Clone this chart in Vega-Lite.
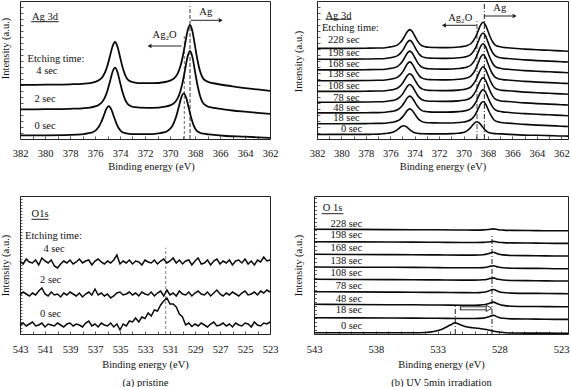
{
"$schema":"https://vega.github.io/schema/vega-lite/v6.json",
"padding":0,
"spacing":22,
"config":{
"font":"Liberation Serif",
"view":{"stroke":"#222","strokeWidth":1},
"axis":{"grid":false,"domain":false,"labelFont":"Liberation Serif","titleFont":"Liberation Serif","labelFontSize":10.5,"titleFontSize":10.5,"titleFontWeight":"normal","labelColor":"#111","titleColor":"#111","tickColor":"#333","tickWidth":0.8,"labelOverlap":false,"labelFlush":false},
"text":{"font":"Liberation Serif","fontSize":10.5,"color":"#111"}
},
"datasets":{
"tl":[
{"c":"4","x":382,"y":54.1},{"c":"4","x":380,"y":54.3},{"c":"4","x":378,"y":54.7},{"c":"4","x":377,"y":55.2},{"c":"4","x":376.4,"y":55.9},{"c":"4","x":376,"y":57.2},{"c":"4","x":375.7,"y":58.7},{"c":"4","x":375.4,"y":62.1},{"c":"4","x":375.2,"y":66.6},{"c":"4","x":375,"y":73.6},{"c":"4","x":374.8,"y":83},{"c":"4","x":374.6,"y":92.5},{"c":"4","x":374.4,"y":97},{"c":"4","x":374.2,"y":92.3},{"c":"4","x":374,"y":82.2},{"c":"4","x":373.8,"y":72},{"c":"4","x":373.6,"y":64.4},{"c":"4","x":373.4,"y":59.8},{"c":"4","x":373.1,"y":57.3},{"c":"4","x":372.8,"y":56.4},{"c":"4","x":372.4,"y":55.8},{"c":"4","x":371.4,"y":55.8},{"c":"4","x":370.4,"y":57},{"c":"4","x":370,"y":58.4},{"c":"4","x":369.7,"y":60.4},{"c":"4","x":369.4,"y":65.1},{"c":"4","x":369.2,"y":71.4},{"c":"4","x":369,"y":81.3},{"c":"4","x":368.8,"y":94.4},{"c":"4","x":368.6,"y":107.8},{"c":"4","x":368.4,"y":114},{"c":"4","x":368.2,"y":107.4},{"c":"4","x":368,"y":93.1},{"c":"4","x":367.8,"y":78.8},{"c":"4","x":367.6,"y":68},{"c":"4","x":367.4,"y":61.5},{"c":"4","x":367.1,"y":57.9},{"c":"4","x":366.8,"y":56.4},{"c":"4","x":366.4,"y":55.5},{"c":"4","x":365,"y":52.6},{"c":"4","x":364,"y":50.9},{"c":"4","x":363,"y":49.6},{"c":"4","x":362,"y":48.1},
{"c":"2","x":382,"y":29.6},{"c":"2","x":380,"y":29.8},{"c":"2","x":378,"y":30.2},{"c":"2","x":377,"y":30.7},{"c":"2","x":376.4,"y":31.4},{"c":"2","x":376,"y":32.6},{"c":"2","x":375.7,"y":34.1},{"c":"2","x":375.4,"y":37.4},{"c":"2","x":375.2,"y":41.8},{"c":"2","x":375,"y":48.6},{"c":"2","x":374.8,"y":57.6},{"c":"2","x":374.6,"y":67},{"c":"2","x":374.4,"y":71.3},{"c":"2","x":374.2,"y":66.8},{"c":"2","x":374,"y":56.9},{"c":"2","x":373.8,"y":47},{"c":"2","x":373.6,"y":39.7},{"c":"2","x":373.4,"y":35.2},{"c":"2","x":373.1,"y":32.7},{"c":"2","x":372.8,"y":31.8},{"c":"2","x":372.4,"y":31.3},{"c":"2","x":371.4,"y":31.2},{"c":"2","x":370.4,"y":32.4},{"c":"2","x":370,"y":33.7},{"c":"2","x":369.7,"y":35.7},{"c":"2","x":369.4,"y":40.4},{"c":"2","x":369.2,"y":46.5},{"c":"2","x":369,"y":56.1},{"c":"2","x":368.8,"y":68.9},{"c":"2","x":368.6,"y":82},{"c":"2","x":368.4,"y":88},{"c":"2","x":368.2,"y":81.6},{"c":"2","x":368,"y":67.6},{"c":"2","x":367.8,"y":53.7},{"c":"2","x":367.6,"y":43.2},{"c":"2","x":367.4,"y":36.8},{"c":"2","x":367.1,"y":33.3},{"c":"2","x":366.8,"y":31.8},{"c":"2","x":366.4,"y":31},{"c":"2","x":365,"y":28.5},{"c":"2","x":364,"y":27.3},{"c":"2","x":363,"y":26.2},{"c":"2","x":362,"y":25.1},
{"c":"0","x":382,"y":3.6},{"c":"0","x":380,"y":3.7},{"c":"0","x":378,"y":4.1},{"c":"0","x":377.5,"y":4.3},{"c":"0","x":376.9,"y":4.8},{"c":"0","x":376.5,"y":5.8},{"c":"0","x":376.2,"y":6.8},{"c":"0","x":375.9,"y":9.2},{"c":"0","x":375.7,"y":12.2},{"c":"0","x":375.5,"y":17},{"c":"0","x":375.3,"y":23.3},{"c":"0","x":375.1,"y":29.9},{"c":"0","x":374.9,"y":32.9},{"c":"0","x":374.7,"y":29.7},{"c":"0","x":374.5,"y":22.8},{"c":"0","x":374.3,"y":15.9},{"c":"0","x":374.1,"y":10.7},{"c":"0","x":373.9,"y":7.6},{"c":"0","x":373.6,"y":5.9},{"c":"0","x":373.3,"y":5.2},{"c":"0","x":372.9,"y":4.8},{"c":"0","x":371.9,"y":4.8},{"c":"0","x":370.9,"y":5.7},{"c":"0","x":370.5,"y":6.6},{"c":"0","x":370.2,"y":8.1},{"c":"0","x":369.9,"y":11.4},{"c":"0","x":369.7,"y":15.8},{"c":"0","x":369.5,"y":22.7},{"c":"0","x":369.3,"y":31.9},{"c":"0","x":369.1,"y":41.4},{"c":"0","x":368.9,"y":45.7},{"c":"0","x":368.7,"y":41.1},{"c":"0","x":368.5,"y":31},{"c":"0","x":368.3,"y":21},{"c":"0","x":368.1,"y":13.4},{"c":"0","x":367.9,"y":8.8},{"c":"0","x":367.6,"y":6.3},{"c":"0","x":367.3,"y":5.3},{"c":"0","x":366.9,"y":4.6},{"c":"0","x":365.5,"y":3},{"c":"0","x":364,"y":2.3},{"c":"0","x":363,"y":1.7},{"c":"0","x":362,"y":1.1}
],
"tr":[
{"c":"228","x":382,"y":90.6},{"c":"228","x":380,"y":90.6},{"c":"228","x":378,"y":90.8},{"c":"228","x":377,"y":91},{"c":"228","x":376.4,"y":91.3},{"c":"228","x":376,"y":92.1},{"c":"228","x":375.7,"y":92.7},{"c":"228","x":375.4,"y":94.2},{"c":"228","x":375.2,"y":96.2},{"c":"228","x":375,"y":99.2},{"c":"228","x":374.8,"y":103.3},{"c":"228","x":374.6,"y":107.5},{"c":"228","x":374.4,"y":109.4},{"c":"228","x":374.2,"y":107.4},{"c":"228","x":374,"y":103},{"c":"228","x":373.8,"y":98.6},{"c":"228","x":373.6,"y":95.2},{"c":"228","x":373.4,"y":93.2},{"c":"228","x":373.1,"y":92.1},{"c":"228","x":372.8,"y":91.7},{"c":"228","x":372.4,"y":91.5},{"c":"228","x":371.4,"y":91.4},{"c":"228","x":370.4,"y":92},{"c":"228","x":370,"y":92.6},{"c":"228","x":369.7,"y":93.5},{"c":"228","x":369.4,"y":95.5},{"c":"228","x":369.2,"y":98.3},{"c":"228","x":369,"y":102.5},{"c":"228","x":368.8,"y":108.3},{"c":"228","x":368.6,"y":114.1},{"c":"228","x":368.4,"y":116.8},{"c":"228","x":368.2,"y":113.9},{"c":"228","x":368,"y":107.7},{"c":"228","x":367.8,"y":101.5},{"c":"228","x":367.6,"y":96.8},{"c":"228","x":367.4,"y":93.9},{"c":"228","x":367.1,"y":92.4},{"c":"228","x":366.8,"y":91.7},{"c":"228","x":366.4,"y":91.3},{"c":"228","x":365,"y":89.9},{"c":"228","x":364,"y":89.2},{"c":"228","x":363,"y":88.7},{"c":"228","x":362,"y":88.1},{"c":"228","x":361.45,"y":87.8},
{"c":"198","x":382,"y":79.8},{"c":"198","x":380,"y":79.8},{"c":"198","x":378,"y":80},{"c":"198","x":377,"y":80.2},{"c":"198","x":376.4,"y":80.5},{"c":"198","x":376,"y":81.3},{"c":"198","x":375.7,"y":81.9},{"c":"198","x":375.4,"y":83.4},{"c":"198","x":375.2,"y":85.4},{"c":"198","x":375,"y":88.4},{"c":"198","x":374.8,"y":92.5},{"c":"198","x":374.6,"y":96.7},{"c":"198","x":374.4,"y":98.6},{"c":"198","x":374.2,"y":96.6},{"c":"198","x":374,"y":92.2},{"c":"198","x":373.8,"y":87.8},{"c":"198","x":373.6,"y":84.4},{"c":"198","x":373.4,"y":82.4},{"c":"198","x":373.1,"y":81.3},{"c":"198","x":372.8,"y":80.9},{"c":"198","x":372.4,"y":80.7},{"c":"198","x":371.4,"y":80.6},{"c":"198","x":370.4,"y":81.2},{"c":"198","x":370,"y":81.8},{"c":"198","x":369.7,"y":82.7},{"c":"198","x":369.4,"y":84.7},{"c":"198","x":369.2,"y":87.5},{"c":"198","x":369,"y":91.7},{"c":"198","x":368.8,"y":97.5},{"c":"198","x":368.6,"y":103.3},{"c":"198","x":368.4,"y":106},{"c":"198","x":368.2,"y":103.1},{"c":"198","x":368,"y":96.9},{"c":"198","x":367.8,"y":90.7},{"c":"198","x":367.6,"y":86},{"c":"198","x":367.4,"y":83.1},{"c":"198","x":367.1,"y":81.6},{"c":"198","x":366.8,"y":80.9},{"c":"198","x":366.4,"y":80.5},{"c":"198","x":365,"y":79.1},{"c":"198","x":364,"y":78.4},{"c":"198","x":363,"y":77.9},{"c":"198","x":362,"y":77.3},{"c":"198","x":361.45,"y":77},
{"c":"168","x":382,"y":69.1},{"c":"168","x":380,"y":69.1},{"c":"168","x":378,"y":69.3},{"c":"168","x":377,"y":69.5},{"c":"168","x":376.4,"y":69.8},{"c":"168","x":376,"y":70.6},{"c":"168","x":375.7,"y":71.2},{"c":"168","x":375.4,"y":72.7},{"c":"168","x":375.2,"y":74.7},{"c":"168","x":375,"y":77.7},{"c":"168","x":374.8,"y":81.8},{"c":"168","x":374.6,"y":86},{"c":"168","x":374.4,"y":87.9},{"c":"168","x":374.2,"y":85.9},{"c":"168","x":374,"y":81.5},{"c":"168","x":373.8,"y":77.1},{"c":"168","x":373.6,"y":73.7},{"c":"168","x":373.4,"y":71.7},{"c":"168","x":373.1,"y":70.6},{"c":"168","x":372.8,"y":70.2},{"c":"168","x":372.4,"y":70},{"c":"168","x":371.4,"y":69.9},{"c":"168","x":370.4,"y":70.5},{"c":"168","x":370,"y":71.1},{"c":"168","x":369.7,"y":72},{"c":"168","x":369.4,"y":74},{"c":"168","x":369.2,"y":76.8},{"c":"168","x":369,"y":81},{"c":"168","x":368.8,"y":86.8},{"c":"168","x":368.6,"y":92.6},{"c":"168","x":368.4,"y":95.3},{"c":"168","x":368.2,"y":92.4},{"c":"168","x":368,"y":86.2},{"c":"168","x":367.8,"y":80},{"c":"168","x":367.6,"y":75.3},{"c":"168","x":367.4,"y":72.4},{"c":"168","x":367.1,"y":70.9},{"c":"168","x":366.8,"y":70.2},{"c":"168","x":366.4,"y":69.8},{"c":"168","x":365,"y":68.4},{"c":"168","x":364,"y":67.7},{"c":"168","x":363,"y":67.2},{"c":"168","x":362,"y":66.6},{"c":"168","x":361.45,"y":66.3},
{"c":"138","x":382,"y":58.3},{"c":"138","x":380,"y":58.3},{"c":"138","x":378,"y":58.5},{"c":"138","x":377,"y":58.7},{"c":"138","x":376.4,"y":59},{"c":"138","x":376,"y":59.8},{"c":"138","x":375.7,"y":60.4},{"c":"138","x":375.4,"y":61.9},{"c":"138","x":375.2,"y":63.9},{"c":"138","x":375,"y":66.9},{"c":"138","x":374.8,"y":71},{"c":"138","x":374.6,"y":75.2},{"c":"138","x":374.4,"y":77.1},{"c":"138","x":374.2,"y":75.1},{"c":"138","x":374,"y":70.7},{"c":"138","x":373.8,"y":66.3},{"c":"138","x":373.6,"y":62.9},{"c":"138","x":373.4,"y":60.9},{"c":"138","x":373.1,"y":59.8},{"c":"138","x":372.8,"y":59.4},{"c":"138","x":372.4,"y":59.2},{"c":"138","x":371.4,"y":59.1},{"c":"138","x":370.4,"y":59.7},{"c":"138","x":370,"y":60.3},{"c":"138","x":369.7,"y":61.2},{"c":"138","x":369.4,"y":63.2},{"c":"138","x":369.2,"y":66},{"c":"138","x":369,"y":70.2},{"c":"138","x":368.8,"y":76},{"c":"138","x":368.6,"y":81.8},{"c":"138","x":368.4,"y":84.5},{"c":"138","x":368.2,"y":81.6},{"c":"138","x":368,"y":75.4},{"c":"138","x":367.8,"y":69.2},{"c":"138","x":367.6,"y":64.5},{"c":"138","x":367.4,"y":61.6},{"c":"138","x":367.1,"y":60.1},{"c":"138","x":366.8,"y":59.4},{"c":"138","x":366.4,"y":59},{"c":"138","x":365,"y":57.6},{"c":"138","x":364,"y":56.9},{"c":"138","x":363,"y":56.4},{"c":"138","x":362,"y":55.8},{"c":"138","x":361.45,"y":55.5},
{"c":"108","x":382,"y":47.6},{"c":"108","x":380,"y":47.6},{"c":"108","x":378,"y":47.8},{"c":"108","x":377,"y":48},{"c":"108","x":376.4,"y":48.3},{"c":"108","x":376,"y":49},{"c":"108","x":375.7,"y":49.6},{"c":"108","x":375.4,"y":51},{"c":"108","x":375.2,"y":52.9},{"c":"108","x":375,"y":55.7},{"c":"108","x":374.8,"y":59.6},{"c":"108","x":374.6,"y":63.5},{"c":"108","x":374.4,"y":65.3},{"c":"108","x":374.2,"y":63.4},{"c":"108","x":374,"y":59.3},{"c":"108","x":373.8,"y":55.1},{"c":"108","x":373.6,"y":51.9},{"c":"108","x":373.4,"y":50.1},{"c":"108","x":373.1,"y":49},{"c":"108","x":372.8,"y":48.6},{"c":"108","x":372.4,"y":48.5},{"c":"108","x":371.4,"y":48.4},{"c":"108","x":370.4,"y":48.9},{"c":"108","x":370,"y":49.5},{"c":"108","x":369.7,"y":50.3},{"c":"108","x":369.4,"y":52.2},{"c":"108","x":369.2,"y":54.9},{"c":"108","x":369,"y":58.8},{"c":"108","x":368.8,"y":64.3},{"c":"108","x":368.6,"y":69.7},{"c":"108","x":368.4,"y":72.2},{"c":"108","x":368.2,"y":69.5},{"c":"108","x":368,"y":63.7},{"c":"108","x":367.8,"y":57.9},{"c":"108","x":367.6,"y":53.4},{"c":"108","x":367.4,"y":50.7},{"c":"108","x":367.1,"y":49.3},{"c":"108","x":366.8,"y":48.6},{"c":"108","x":366.4,"y":48.3},{"c":"108","x":365,"y":46.9},{"c":"108","x":364,"y":46.2},{"c":"108","x":363,"y":45.7},{"c":"108","x":362,"y":45.1},{"c":"108","x":361.45,"y":44.8},
{"c":"78","x":382,"y":36.8},{"c":"78","x":380,"y":36.8},{"c":"78","x":378,"y":37},{"c":"78","x":377,"y":37.2},{"c":"78","x":376.4,"y":37.5},{"c":"78","x":376,"y":38.2},{"c":"78","x":375.7,"y":38.8},{"c":"78","x":375.4,"y":40.2},{"c":"78","x":375.2,"y":42.1},{"c":"78","x":375,"y":44.9},{"c":"78","x":374.8,"y":48.8},{"c":"78","x":374.6,"y":52.7},{"c":"78","x":374.4,"y":54.5},{"c":"78","x":374.2,"y":52.6},{"c":"78","x":374,"y":48.5},{"c":"78","x":373.8,"y":44.3},{"c":"78","x":373.6,"y":41.1},{"c":"78","x":373.4,"y":39.3},{"c":"78","x":373.1,"y":38.2},{"c":"78","x":372.8,"y":37.8},{"c":"78","x":372.4,"y":37.7},{"c":"78","x":371.4,"y":37.6},{"c":"78","x":370.4,"y":38.1},{"c":"78","x":370,"y":38.7},{"c":"78","x":369.7,"y":39.5},{"c":"78","x":369.4,"y":41.4},{"c":"78","x":369.2,"y":44.1},{"c":"78","x":369,"y":48},{"c":"78","x":368.8,"y":53.5},{"c":"78","x":368.6,"y":58.9},{"c":"78","x":368.4,"y":61.4},{"c":"78","x":368.2,"y":58.7},{"c":"78","x":368,"y":52.9},{"c":"78","x":367.8,"y":47.1},{"c":"78","x":367.6,"y":42.6},{"c":"78","x":367.4,"y":39.9},{"c":"78","x":367.1,"y":38.5},{"c":"78","x":366.8,"y":37.8},{"c":"78","x":366.4,"y":37.5},{"c":"78","x":365,"y":36.1},{"c":"78","x":364,"y":35.4},{"c":"78","x":363,"y":34.9},{"c":"78","x":362,"y":34.3},{"c":"78","x":361.45,"y":34},
{"c":"48","x":382,"y":26.1},{"c":"48","x":380,"y":26.1},{"c":"48","x":378,"y":26.3},{"c":"48","x":377,"y":26.4},{"c":"48","x":376.4,"y":26.7},{"c":"48","x":376,"y":27.5},{"c":"48","x":375.7,"y":28},{"c":"48","x":375.4,"y":29.3},{"c":"48","x":375.2,"y":31.1},{"c":"48","x":375,"y":33.8},{"c":"48","x":374.8,"y":37.4},{"c":"48","x":374.6,"y":41.2},{"c":"48","x":374.4,"y":42.9},{"c":"48","x":374.2,"y":41.1},{"c":"48","x":374,"y":37.2},{"c":"48","x":373.8,"y":33.2},{"c":"48","x":373.6,"y":30.2},{"c":"48","x":373.4,"y":28.4},{"c":"48","x":373.1,"y":27.5},{"c":"48","x":372.8,"y":27.1},{"c":"48","x":372.4,"y":26.9},{"c":"48","x":371.4,"y":26.9},{"c":"48","x":370.4,"y":27.4},{"c":"48","x":370,"y":27.9},{"c":"48","x":369.7,"y":28.7},{"c":"48","x":369.4,"y":30.5},{"c":"48","x":369.2,"y":33},{"c":"48","x":369,"y":36.7},{"c":"48","x":368.8,"y":41.9},{"c":"48","x":368.6,"y":47},{"c":"48","x":368.4,"y":49.4},{"c":"48","x":368.2,"y":46.9},{"c":"48","x":368,"y":41.3},{"c":"48","x":367.8,"y":35.8},{"c":"48","x":367.6,"y":31.6},{"c":"48","x":367.4,"y":29.1},{"c":"48","x":367.1,"y":27.7},{"c":"48","x":366.8,"y":27.1},{"c":"48","x":366.4,"y":26.7},{"c":"48","x":365,"y":25.4},{"c":"48","x":364,"y":24.7},{"c":"48","x":363,"y":24.2},{"c":"48","x":362,"y":23.6},{"c":"48","x":361.45,"y":23.3},
{"c":"18","x":382,"y":15.3},{"c":"18","x":380,"y":15.3},{"c":"18","x":378,"y":15.4},{"c":"18","x":377,"y":15.6},{"c":"18","x":376.4,"y":15.8},{"c":"18","x":376,"y":16.5},{"c":"18","x":375.7,"y":17},{"c":"18","x":375.4,"y":18.2},{"c":"18","x":375.2,"y":19.7},{"c":"18","x":375,"y":22.1},{"c":"18","x":374.8,"y":25.3},{"c":"18","x":374.6,"y":28.6},{"c":"18","x":374.4,"y":30.1},{"c":"18","x":374.2,"y":28.5},{"c":"18","x":374,"y":25.1},{"c":"18","x":373.8,"y":21.6},{"c":"18","x":373.6,"y":18.9},{"c":"18","x":373.4,"y":17.4},{"c":"18","x":373.1,"y":16.5},{"c":"18","x":372.8,"y":16.2},{"c":"18","x":372.4,"y":16.1},{"c":"18","x":371.4,"y":16},{"c":"18","x":370.4,"y":16.5},{"c":"18","x":370,"y":17},{"c":"18","x":369.7,"y":17.8},{"c":"18","x":369.4,"y":19.5},{"c":"18","x":369.2,"y":21.8},{"c":"18","x":369,"y":25.4},{"c":"18","x":368.8,"y":30.3},{"c":"18","x":368.6,"y":35.2},{"c":"18","x":368.4,"y":37.5},{"c":"18","x":368.2,"y":35},{"c":"18","x":368,"y":29.8},{"c":"18","x":367.8,"y":24.6},{"c":"18","x":367.6,"y":20.6},{"c":"18","x":367.4,"y":18.1},{"c":"18","x":367.1,"y":16.9},{"c":"18","x":366.8,"y":16.2},{"c":"18","x":366.4,"y":15.9},{"c":"18","x":365,"y":14.6},{"c":"18","x":364,"y":13.9},{"c":"18","x":363,"y":13.4},{"c":"18","x":362,"y":12.8},{"c":"18","x":361.45,"y":12.5},
{"c":"0","x":382,"y":4.5},{"c":"0","x":380,"y":4.6},{"c":"0","x":378,"y":4.6},{"c":"0","x":377.5,"y":4.7},{"c":"0","x":376.9,"y":4.9},{"c":"0","x":376.5,"y":5.4},{"c":"0","x":376.2,"y":5.7},{"c":"0","x":375.9,"y":6.4},{"c":"0","x":375.7,"y":7.3},{"c":"0","x":375.5,"y":8.7},{"c":"0","x":375.3,"y":10.5},{"c":"0","x":375.1,"y":12.5},{"c":"0","x":374.9,"y":13.3},{"c":"0","x":374.7,"y":12.4},{"c":"0","x":374.5,"y":10.4},{"c":"0","x":374.3,"y":8.4},{"c":"0","x":374.1,"y":6.8},{"c":"0","x":373.9,"y":5.9},{"c":"0","x":373.6,"y":5.4},{"c":"0","x":373.3,"y":5.2},{"c":"0","x":372.9,"y":5.1},{"c":"0","x":371.9,"y":5.1},{"c":"0","x":370.9,"y":5.4},{"c":"0","x":370.5,"y":5.7},{"c":"0","x":370.2,"y":6.1},{"c":"0","x":369.9,"y":7.1},{"c":"0","x":369.7,"y":8.4},{"c":"0","x":369.5,"y":10.4},{"c":"0","x":369.3,"y":13.2},{"c":"0","x":369.1,"y":16},{"c":"0","x":368.9,"y":17.3},{"c":"0","x":368.7,"y":15.9},{"c":"0","x":368.5,"y":12.9},{"c":"0","x":368.3,"y":9.9},{"c":"0","x":368.1,"y":7.7},{"c":"0","x":367.9,"y":6.3},{"c":"0","x":367.6,"y":5.6},{"c":"0","x":367.3,"y":5.3},{"c":"0","x":366.9,"y":5.1},{"c":"0","x":365.5,"y":4.1},{"c":"0","x":364,"y":3.7},{"c":"0","x":363,"y":3.4},{"c":"0","x":362,"y":3},{"c":"0","x":361.45,"y":2.9}
],
"bl":[
{"c":"4","x":543,"y":73},{"c":"4","x":542.75,"y":70},{"c":"4","x":542.5,"y":75},{"c":"4","x":542.25,"y":72},{"c":"4","x":542,"y":71},{"c":"4","x":541.75,"y":74},{"c":"4","x":541.5,"y":69},{"c":"4","x":541.25,"y":76},{"c":"4","x":541,"y":73},{"c":"4","x":540.75,"y":71},
{"c":"4","x":540.5,"y":74},{"c":"4","x":540.25,"y":68},{"c":"4","x":540,"y":66},{"c":"4","x":539.75,"y":70},{"c":"4","x":539.5,"y":73},{"c":"4","x":539.25,"y":71},{"c":"4","x":539,"y":74},{"c":"4","x":538.75,"y":70},{"c":"4","x":538.5,"y":72},{"c":"4","x":538.25,"y":75},
{"c":"4","x":538,"y":71},{"c":"4","x":537.75,"y":73},{"c":"4","x":537.5,"y":74},{"c":"4","x":537.25,"y":69},{"c":"4","x":537,"y":73},{"c":"4","x":536.75,"y":75},{"c":"4","x":536.5,"y":72},{"c":"4","x":536.25,"y":70},{"c":"4","x":536,"y":73},{"c":"4","x":535.75,"y":71},
{"c":"4","x":535.5,"y":74},{"c":"4","x":535.25,"y":79},{"c":"4","x":535,"y":70},{"c":"4","x":534.75,"y":73},{"c":"4","x":534.5,"y":71},{"c":"4","x":534.25,"y":74},{"c":"4","x":534,"y":70},{"c":"4","x":533.75,"y":73},{"c":"4","x":533.5,"y":72},{"c":"4","x":533.25,"y":69},
{"c":"4","x":533,"y":74},{"c":"4","x":532.75,"y":72},{"c":"4","x":532.5,"y":71},{"c":"4","x":532.25,"y":74},{"c":"4","x":532,"y":70},{"c":"4","x":531.75,"y":73},{"c":"4","x":531.5,"y":75},{"c":"4","x":531.25,"y":71},{"c":"4","x":531,"y":73},{"c":"4","x":530.75,"y":76},
{"c":"4","x":530.5,"y":71},{"c":"4","x":530.25,"y":74},{"c":"4","x":530,"y":70},{"c":"4","x":529.75,"y":73},{"c":"4","x":529.5,"y":74},{"c":"4","x":529.25,"y":69},{"c":"4","x":529,"y":73},{"c":"4","x":528.75,"y":76},{"c":"4","x":528.5,"y":70},{"c":"4","x":528.25,"y":71},
{"c":"4","x":528,"y":74},{"c":"4","x":527.75,"y":69},{"c":"4","x":527.5,"y":73},{"c":"4","x":527.25,"y":75},{"c":"4","x":527,"y":70},{"c":"4","x":526.75,"y":73},{"c":"4","x":526.5,"y":71},{"c":"4","x":526.25,"y":74},{"c":"4","x":526,"y":69},{"c":"4","x":525.75,"y":73},
{"c":"4","x":525.5,"y":74},{"c":"4","x":525.25,"y":71},{"c":"4","x":525,"y":75},{"c":"4","x":524.75,"y":70},{"c":"4","x":524.5,"y":73},{"c":"4","x":524.25,"y":69},{"c":"4","x":524,"y":74},{"c":"4","x":523.75,"y":72},{"c":"4","x":523.5,"y":77},{"c":"4","x":523.25,"y":73},{"c":"4","x":523,"y":74},
{"c":"2","x":543,"y":39},{"c":"2","x":542.75,"y":42},{"c":"2","x":542.5,"y":40},{"c":"2","x":542.25,"y":38},{"c":"2","x":542,"y":41},{"c":"2","x":541.75,"y":39},{"c":"2","x":541.5,"y":43},{"c":"2","x":541.25,"y":46},{"c":"2","x":541,"y":40},{"c":"2","x":540.75,"y":38},
{"c":"2","x":540.5,"y":42},{"c":"2","x":540.25,"y":39},{"c":"2","x":540,"y":40},{"c":"2","x":539.75,"y":37},{"c":"2","x":539.5,"y":41},{"c":"2","x":539.25,"y":39},{"c":"2","x":539,"y":42},{"c":"2","x":538.75,"y":40},{"c":"2","x":538.5,"y":38},{"c":"2","x":538.25,"y":41},
{"c":"2","x":538,"y":37},{"c":"2","x":537.75,"y":40},{"c":"2","x":537.5,"y":42},{"c":"2","x":537.25,"y":39},{"c":"2","x":537,"y":45},{"c":"2","x":536.75,"y":39},{"c":"2","x":536.5,"y":41},{"c":"2","x":536.25,"y":38},{"c":"2","x":536,"y":40},{"c":"2","x":535.75,"y":36},
{"c":"2","x":535.5,"y":38},{"c":"2","x":535.25,"y":41},{"c":"2","x":535,"y":42},{"c":"2","x":534.75,"y":39},{"c":"2","x":534.5,"y":40},{"c":"2","x":534.25,"y":42},{"c":"2","x":534,"y":39},{"c":"2","x":533.75,"y":41},{"c":"2","x":533.5,"y":38},{"c":"2","x":533.25,"y":42},
{"c":"2","x":533,"y":40},{"c":"2","x":532.75,"y":39},{"c":"2","x":532.5,"y":42},{"c":"2","x":532.25,"y":38},{"c":"2","x":532,"y":41},{"c":"2","x":531.75,"y":43},{"c":"2","x":531.5,"y":38},{"c":"2","x":531.25,"y":44},{"c":"2","x":531,"y":39},{"c":"2","x":530.75,"y":41},
{"c":"2","x":530.5,"y":38},{"c":"2","x":530.25,"y":43},{"c":"2","x":530,"y":40},{"c":"2","x":529.75,"y":39},{"c":"2","x":529.5,"y":42},{"c":"2","x":529.25,"y":38},{"c":"2","x":529,"y":41},{"c":"2","x":528.75,"y":43},{"c":"2","x":528.5,"y":40},{"c":"2","x":528.25,"y":39},
{"c":"2","x":528,"y":42},{"c":"2","x":527.75,"y":38},{"c":"2","x":527.5,"y":41},{"c":"2","x":527.25,"y":44},{"c":"2","x":527,"y":40},{"c":"2","x":526.75,"y":38},{"c":"2","x":526.5,"y":41},{"c":"2","x":526.25,"y":39},{"c":"2","x":526,"y":42},{"c":"2","x":525.75,"y":40},
{"c":"2","x":525.5,"y":38},{"c":"2","x":525.25,"y":41},{"c":"2","x":525,"y":43},{"c":"2","x":524.75,"y":39},{"c":"2","x":524.5,"y":40},{"c":"2","x":524.25,"y":42},{"c":"2","x":524,"y":39},{"c":"2","x":523.75,"y":43},{"c":"2","x":523.5,"y":41},{"c":"2","x":523.25,"y":44},{"c":"2","x":523,"y":42},
{"c":"0","x":543,"y":9},{"c":"0","x":542.75,"y":11},{"c":"0","x":542.5,"y":8},{"c":"0","x":542.25,"y":10},{"c":"0","x":542,"y":12},{"c":"0","x":541.75,"y":8},{"c":"0","x":541.5,"y":9},{"c":"0","x":541.25,"y":11},{"c":"0","x":541,"y":7},{"c":"0","x":540.75,"y":10},
{"c":"0","x":540.5,"y":9},{"c":"0","x":540.25,"y":8},{"c":"0","x":540,"y":11},{"c":"0","x":539.75,"y":9},{"c":"0","x":539.5,"y":7},{"c":"0","x":539.25,"y":10},{"c":"0","x":539,"y":11},{"c":"0","x":538.75,"y":8},{"c":"0","x":538.5,"y":10},{"c":"0","x":538.25,"y":9},
{"c":"0","x":538,"y":7},{"c":"0","x":537.75,"y":11},{"c":"0","x":537.5,"y":13},{"c":"0","x":537.25,"y":8},{"c":"0","x":537,"y":10},{"c":"0","x":536.75,"y":7},{"c":"0","x":536.5,"y":11},{"c":"0","x":536.25,"y":9},{"c":"0","x":536,"y":8},{"c":"0","x":535.75,"y":11},
{"c":"0","x":535.5,"y":7},{"c":"0","x":535.25,"y":10},{"c":"0","x":535,"y":4},{"c":"0","x":534.75,"y":10},{"c":"0","x":534.5,"y":8},{"c":"0","x":534.25,"y":13},{"c":"0","x":534,"y":12},{"c":"0","x":533.75,"y":16},{"c":"0","x":533.5,"y":12},{"c":"0","x":533.25,"y":17},
{"c":"0","x":533,"y":15.5},{"c":"0","x":532.75,"y":21},{"c":"0","x":532.5,"y":18},{"c":"0","x":532.25,"y":24},{"c":"0","x":532,"y":23},{"c":"0","x":531.75,"y":29},{"c":"0","x":531.5,"y":33},{"c":"0","x":531.25,"y":36},{"c":"0","x":531,"y":30},{"c":"0","x":530.75,"y":30},
{"c":"0","x":530.5,"y":27},{"c":"0","x":530.25,"y":20},{"c":"0","x":530,"y":17},{"c":"0","x":529.75,"y":9},{"c":"0","x":529.5,"y":11},{"c":"0","x":529.25,"y":7.5},{"c":"0","x":529,"y":10},{"c":"0","x":528.75,"y":8},{"c":"0","x":528.5,"y":11},{"c":"0","x":528.25,"y":9},
{"c":"0","x":528,"y":7},{"c":"0","x":527.75,"y":10},{"c":"0","x":527.5,"y":12},{"c":"0","x":527.25,"y":8},{"c":"0","x":527,"y":9},{"c":"0","x":526.75,"y":11},{"c":"0","x":526.5,"y":8},{"c":"0","x":526.25,"y":10},{"c":"0","x":526,"y":7},{"c":"0","x":525.75,"y":11},
{"c":"0","x":525.5,"y":9},{"c":"0","x":525.25,"y":8},{"c":"0","x":525,"y":11},{"c":"0","x":524.75,"y":10},{"c":"0","x":524.5,"y":7},{"c":"0","x":524.25,"y":12},{"c":"0","x":524,"y":9},{"c":"0","x":523.75,"y":8},{"c":"0","x":523.5,"y":11},{"c":"0","x":523.25,"y":10},{"c":"0","x":523,"y":12}
],
"br":[
{"c":"228","x":543,"y":104.7},{"c":"228","x":540,"y":104.6},{"c":"228","x":537,"y":104.4},{"c":"228","x":535,"y":104.3},{"c":"228","x":533,"y":104.2},{"c":"228","x":531,"y":104},{"c":"228","x":530,"y":103.9},{"c":"228","x":529.3,"y":104.1},{"c":"228","x":528.9,"y":104.5},{"c":"228","x":528.5,"y":105.1},{"c":"228","x":528.1,"y":104.3},{"c":"228","x":527.7,"y":103.9},{"c":"228","x":527,"y":103.6},{"c":"228","x":525,"y":103.4},{"c":"228","x":523,"y":103.2},{"c":"228","x":522.45,"y":103.2},
{"c":"198","x":543,"y":92.3},{"c":"198","x":540,"y":92.1},{"c":"198","x":537,"y":92},{"c":"198","x":535,"y":91.9},{"c":"198","x":533,"y":91.7},{"c":"198","x":531,"y":91.5},{"c":"198","x":530,"y":91.5},{"c":"198","x":529.3,"y":91.6},{"c":"198","x":528.9,"y":92},{"c":"198","x":528.5,"y":92.6},{"c":"198","x":528.1,"y":91.8},{"c":"198","x":527.7,"y":91.4},{"c":"198","x":527,"y":91.1},{"c":"198","x":525,"y":90.9},{"c":"198","x":523,"y":90.6},{"c":"198","x":522.45,"y":90.6},
{"c":"168","x":543,"y":79.7},{"c":"168","x":540,"y":79.5},{"c":"168","x":537,"y":79.4},{"c":"168","x":535,"y":79.3},{"c":"168","x":533,"y":79.1},{"c":"168","x":531,"y":78.9},{"c":"168","x":530,"y":78.9},{"c":"168","x":529.3,"y":79.3},{"c":"168","x":528.9,"y":80.3},{"c":"168","x":528.5,"y":81.8},{"c":"168","x":528.1,"y":80},{"c":"168","x":527.7,"y":79.1},{"c":"168","x":527,"y":78.5},{"c":"168","x":525,"y":78.3},{"c":"168","x":523,"y":78},{"c":"168","x":522.45,"y":78},
{"c":"138","x":543,"y":67},{"c":"138","x":540,"y":66.8},{"c":"138","x":537,"y":66.7},{"c":"138","x":535,"y":66.6},{"c":"138","x":533,"y":66.4},{"c":"138","x":531,"y":66.2},{"c":"138","x":530,"y":66.2},{"c":"138","x":529.3,"y":66.4},{"c":"138","x":528.9,"y":67.2},{"c":"138","x":528.5,"y":68.3},{"c":"138","x":528.1,"y":67},{"c":"138","x":527.7,"y":66.2},{"c":"138","x":527,"y":65.8},{"c":"138","x":525,"y":65.6},{"c":"138","x":523,"y":65.3},{"c":"138","x":522.45,"y":65.3},
{"c":"108","x":543,"y":54.7},{"c":"108","x":540,"y":54.5},{"c":"108","x":537,"y":54.4},{"c":"108","x":535,"y":54.3},{"c":"108","x":533,"y":54.1},{"c":"108","x":531,"y":53.9},{"c":"108","x":530,"y":53.9},{"c":"108","x":529.3,"y":54.2},{"c":"108","x":528.9,"y":55},{"c":"108","x":528.5,"y":56.1},{"c":"108","x":528.1,"y":54.7},{"c":"108","x":527.7,"y":54},{"c":"108","x":527,"y":53.5},{"c":"108","x":525,"y":53.3},{"c":"108","x":523,"y":53},{"c":"108","x":522.45,"y":53},
{"c":"78","x":543,"y":42.3},{"c":"78","x":540,"y":42.1},{"c":"78","x":537,"y":41.9},{"c":"78","x":535,"y":41.8},{"c":"78","x":533,"y":41.6},{"c":"78","x":531,"y":41.4},{"c":"78","x":530,"y":41.3},{"c":"78","x":529.3,"y":41.8},{"c":"78","x":528.9,"y":42.9},{"c":"78","x":528.5,"y":44.5},{"c":"78","x":528.1,"y":42.6},{"c":"78","x":527.7,"y":41.5},{"c":"78","x":527,"y":40.9},{"c":"78","x":525,"y":40.6},{"c":"78","x":523,"y":40.4},{"c":"78","x":522.45,"y":40.3},
{"c":"48","x":543,"y":29.7},{"c":"48","x":540,"y":29.5},{"c":"48","x":537,"y":29.3},{"c":"48","x":535,"y":29.2},{"c":"48","x":533,"y":29},{"c":"48","x":531,"y":28.8},{"c":"48","x":530,"y":28.7},{"c":"48","x":529.3,"y":29.2},{"c":"48","x":528.9,"y":30.3},{"c":"48","x":528.5,"y":31.9},{"c":"48","x":528.1,"y":30},{"c":"48","x":527.7,"y":28.6},{"c":"48","x":527,"y":27.8},{"c":"48","x":525,"y":27.5},{"c":"48","x":523,"y":27.3},{"c":"48","x":522.45,"y":27.2},
{"c":"18","x":543,"y":16.3},{"c":"18","x":540,"y":16.1},{"c":"18","x":537,"y":16},{"c":"18","x":535,"y":15.9},{"c":"18","x":533,"y":15.7},{"c":"18","x":531,"y":15.5},{"c":"18","x":530,"y":15.5},{"c":"18","x":529.3,"y":15.9},{"c":"18","x":528.9,"y":17},{"c":"18","x":528.5,"y":18.7},{"c":"18","x":528.1,"y":16.8},{"c":"18","x":527.7,"y":15.7},{"c":"18","x":527,"y":15.1},{"c":"18","x":525,"y":14.9},{"c":"18","x":523,"y":14.6},{"c":"18","x":522.45,"y":14.6},
{"c":"0","x":543,"y":1.3},{"c":"0","x":540,"y":1.3},{"c":"0","x":537,"y":1.2},{"c":"0","x":535,"y":1.2},{"c":"0","x":534,"y":1.5},{"c":"0","x":533.3,"y":2.5},{"c":"0","x":532.7,"y":4.5},{"c":"0","x":532.2,"y":7.5},{"c":"0","x":531.9,"y":9.5},{"c":"0","x":531.6,"y":11.3},{"c":"0","x":531.3,"y":10},{"c":"0","x":531,"y":8.5},{"c":"0","x":530.6,"y":7},{"c":"0","x":530.2,"y":6.3},{"c":"0","x":529.7,"y":5.8},{"c":"0","x":529.2,"y":4.8},{"c":"0","x":528.7,"y":3.5},{"c":"0","x":528.2,"y":2.2},{"c":"0","x":527.5,"y":1.2},{"c":"0","x":527,"y":1},{"c":"0","x":525,"y":0.9},{"c":"0","x":523,"y":0.8},{"c":"0","x":522.45,"y":0.8}
]
},
"vconcat":[
{"hconcat":[
{"width":250,"height":138,
"encoding":{
"x":{"field":"x","type":"quantitative","scale":{"domain":[362,382],"reverse":true,"nice":false,"zero":false},
"axis":{"title":"Binding energy (eV)","values":[362,363,364,365,366,367,368,369,370,371,372,373,374,375,376,377,378,379,380,381,382],"labelExpr":"datum.value % 2 == 0 ? datum.label : ''","tickSize":-3,"labelPadding":12,"titlePadding":3,"titleX":131}},
"y":{"field":"y","type":"quantitative","scale":{"domain":[0,138],"nice":false,"zero":false},
"axis":{"title":"Intensity (a.u.)","labels":false,"values":[0,6,12,18,24,30,36,42,48,54,60,66,72,78,84,90,96,102,108,114,120,126,132,138],"tickSize":-3,"titlePadding":9,"titleY":47}}
},
"layer":[
{"data":{"values":[{"x":368.85,"y":0,"y2":105}]},"mark":{"type":"rule","color":"#888","strokeWidth":1.2,"strokeDash":[3,2]},"encoding":{"y2":{"field":"y2"}}},
{"data":{"values":[{"x":368.4,"y":0,"y2":133}]},"mark":{"type":"rule","color":"#333","strokeWidth":1,"strokeDash":[4,2]},"encoding":{"y2":{"field":"y2"}}},
{"data":{"name":"tl"},"mark":{"type":"line","color":"#0a0a0a","strokeWidth":1.8,"interpolate":"monotone"},"encoding":{"detail":{"field":"c"}}},
{"data":{"values":[{"x":381.1,"x2":378.9,"y":117.3},{"x":368.35,"x2":366.1,"y":118.7},{"x":369.07,"x2":371.5,"y":93}]},"mark":{"type":"rule","color":"#222","strokeWidth":1},"encoding":{"x2":{"field":"x2"}}},
{"data":{"values":[{"x":365.94,"y":118.7}]},"mark":{"type":"point","shape":"triangle-right","filled":true,"size":22,"color":"#222","opacity":1},"encoding":{}},
{"data":{"values":[{"x":371.64,"y":93}]},"mark":{"type":"point","shape":"triangle-left","filled":true,"size":22,"color":"#222","opacity":1},"encoding":{}},
{"data":{"values":[{"t":"Ag 3d","x":380.0,"y":122},{"t":"Ag","x":367.14,"y":127},{"t":"Ag₂O","x":370.43,"y":104}]},"mark":{"type":"text","align":"center"},"encoding":{"text":{"field":"t"}}},
{"data":{"values":[{"t":"Etching time:","x":381.4,"y":80.3},{"t":"4 sec","x":380.7,"y":68},{"t":"2 sec","x":380.85,"y":40},{"t":"0 sec","x":380.85,"y":13}]},"mark":{"type":"text","align":"left"},"encoding":{"text":{"field":"t"}}}
]},
{"width":251,"height":138,
"encoding":{
"x":{"field":"x","type":"quantitative","scale":{"domain":[361.45,382],"reverse":true,"nice":false,"zero":false},
"axis":{"title":"Binding energy (eV)","values":[362,363,364,365,366,367,368,369,370,371,372,373,374,375,376,377,378,379,380,381,382],"labelExpr":"datum.value % 2 == 0 ? datum.label : ''","tickSize":-3,"labelPadding":12,"titlePadding":3}},
"y":{"field":"y","type":"quantitative","scale":{"domain":[0,138],"nice":false,"zero":false},
"axis":{"title":"Intensity (a.u.)","labels":false,"values":[0,6,12,18,24,30,36,42,48,54,60,66,72,78,84,90,96,102,108,114,120,126,132,138],"tickSize":-3,"titlePadding":13,"titleY":60}}
},
"layer":[
{"data":{"values":[{"x":368.9,"y":0,"y2":118}]},"mark":{"type":"rule","color":"#555","strokeWidth":1.1,"strokeDash":[5,2,1,2]},"encoding":{"y2":{"field":"y2"}}},
{"data":{"values":[{"x":368.3,"y":0,"y2":138}]},"mark":{"type":"rule","color":"#222","strokeWidth":1,"strokeDash":[5,2,1,2]},"encoding":{"y2":{"field":"y2"}}},
{"data":{"name":"tr"},"mark":{"type":"line","color":"#0a0a0a","strokeWidth":1.6,"interpolate":"monotone"},"encoding":{"detail":{"field":"c"}}},
{"data":{"values":[{"x":381.29,"x2":379.19,"y":119.7},{"x":368.33,"x2":366.0,"y":123},{"x":368.92,"x2":371.45,"y":113.7}]},"mark":{"type":"rule","color":"#222","strokeWidth":1},"encoding":{"x2":{"field":"x2"}}},
{"data":{"values":[{"x":365.82,"y":123}]},"mark":{"type":"point","shape":"triangle-right","filled":true,"size":22,"color":"#222","opacity":1},"encoding":{}},
{"data":{"values":[{"x":371.61,"y":113.7}]},"mark":{"type":"point","shape":"triangle-left","filled":true,"size":22,"color":"#222","opacity":1},"encoding":{}},
{"data":{"values":[{"t":"Ag 3d","x":380.24,"y":123},{"t":"Ag","x":367.04,"y":131.3},{"t":"Ag₂O","x":370.27,"y":121.3}]},"mark":{"type":"text","align":"center"},"encoding":{"text":{"field":"t"}}},
{"data":{"values":[{"t":"Etching time:","x":381.6,"y":111.3}]},"mark":{"type":"text","align":"left"},"encoding":{"text":{"field":"t"}}},
{"data":{"values":[{"t":"228 sec","x":378.5,"y":98.7},{"t":"198 sec","x":378.5,"y":86.3},{"t":"168 sec","x":378.5,"y":75.3},{"t":"138 sec","x":378.5,"y":64.7},{"t":"108 sec","x":378.5,"y":53},{"t":"78 sec","x":378.5,"y":41.3},{"t":"48 sec","x":378.5,"y":30.7},{"t":"18 sec","x":378.5,"y":20.7},{"t":"0 sec","x":378.3,"y":9.7}]},"mark":{"type":"text","align":"right"},"encoding":{"text":{"field":"t"}}}
]}
],"spacing":47,"bounds":"flush"},
{"hconcat":[
{"width":250,"height":138,
"encoding":{
"x":{"field":"x","type":"quantitative","scale":{"domain":[523,543],"reverse":true,"nice":false,"zero":false},
"axis":{"title":["Binding energy (eV)","(a) pristine"],"titleLineHeight":18,"values":[523,524,525,526,527,528,529,530,531,532,533,534,535,536,537,538,539,540,541,542,543],"labelExpr":"datum.value % 2 == 1 ? datum.label : ''","tickSize":-3,"labelPadding":13,"titlePadding":5}},
"y":{"field":"y","type":"quantitative","scale":{"domain":[0,138],"nice":false,"zero":false},
"axis":{"title":"Intensity (a.u.)","labels":false,"values":[0,3,6,9,12,15,18,21,24,27,30,33,36,39,42,45,48,51,54,57,60,63,66,69,72,75,78,81,84,87,90,93,96,99,102,105,108,111,114,117,120,123,126,129,132,135,138],"tickSize":-2,"titlePadding":9}}
},
"layer":[
{"data":{"values":[{"x":531.35,"y":0,"y2":86.3}]},"mark":{"type":"rule","color":"#999","strokeWidth":1.3,"strokeDash":[3,2]},"encoding":{"y2":{"field":"y2"}}},
{"data":{"name":"bl"},"mark":{"type":"line","color":"#0a0a0a","strokeWidth":1.5},"encoding":{"detail":{"field":"c"}}},
{"data":{"values":[{"x":542.08,"x2":540.72,"y":114.7}]},"mark":{"type":"rule","color":"#222","strokeWidth":1},"encoding":{"x2":{"field":"x2"}}},
{"data":{"values":[{"t":"O1s","x":541.4,"y":120}]},"mark":{"type":"text","align":"center"},"encoding":{"text":{"field":"t"}}},
{"data":{"values":[{"t":"Etching time:","x":542.6,"y":98},{"t":"4 sec","x":541.13,"y":84.7},{"t":"2 sec","x":541.4,"y":53.7},{"t":"0 sec","x":541.4,"y":19.7}]},"mark":{"type":"text","align":"left"},"encoding":{"text":{"field":"t"}}}
]},
{"width":254,"height":138,
"encoding":{
"x":{"field":"x","type":"quantitative","scale":{"domain":[522.45,543],"reverse":true,"nice":false,"zero":false},
"axis":{"title":["Binding energy (eV)","(b) UV 5min irradiation"],"titleLineHeight":18,"values":[523,524,525,526,527,528,529,530,531,532,533,534,535,536,537,538,539,540,541,542,543],"labelExpr":"(datum.value - 523) % 5 == 0 ? datum.label : ''","tickSize":-3,"labelPadding":13,"titlePadding":5}},
"y":{"field":"y","type":"quantitative","scale":{"domain":[0,138],"nice":false,"zero":false},
"axis":{"title":"Intensity (a.u.)","labels":false,"values":[0,4,8,12,16,20,24,28,32,36,40,44,48,52,56,60,64,68,72,76,80,84,88,92,96,100,104,108,112,116,120,124,128,132,136],"tickSize":-2.5,"titlePadding":10}}
},
"layer":[
{"data":{"values":[{"x":531.57,"y":0,"y2":28},{"x":528.6,"y":0,"y2":99.7}]},"mark":{"type":"rule","color":"#222","strokeWidth":1,"strokeDash":[5,2,1,2]},"encoding":{"y2":{"field":"y2"}}},
{"data":{"name":"br"},"mark":{"type":"line","color":"#0a0a0a","strokeWidth":1.6,"interpolate":"monotone"},"encoding":{"detail":{"field":"c"}}},
{"data":{"values":[{"x":531.2,"x2":529.0,"y":25.7}]},"mark":{"type":"rule","color":"#333","strokeWidth":4},"encoding":{"x2":{"field":"x2"}}},
{"data":{"values":[{"x":531.1,"x2":529.0,"y":25.7}]},"mark":{"type":"rule","color":"#fff","strokeWidth":2},"encoding":{"x2":{"field":"x2"}}},
{"data":{"values":[{"x":528.85,"y":25.7}]},"mark":{"type":"point","shape":"triangle-right","filled":true,"size":40,"fill":"#fff","stroke":"#333","strokeWidth":1,"opacity":1},"encoding":{}},
{"data":{"values":[{"x":542.38,"x2":540.62,"y":120.3}]},"mark":{"type":"rule","color":"#222","strokeWidth":1},"encoding":{"x2":{"field":"x2"}}},
{"data":{"values":[{"t":"O 1s","x":541.5,"y":125.7}]},"mark":{"type":"text","align":"center"},"encoding":{"text":{"field":"t"}}},
{"data":{"values":[{"t":"228 sec","x":539.1,"y":110.3},{"t":"198 sec","x":539.1,"y":98.7},{"t":"168 sec","x":539.1,"y":86.3},{"t":"138 sec","x":539.1,"y":73},{"t":"108 sec","x":539.1,"y":61.3},{"t":"78 sec","x":539.1,"y":48},{"t":"48 sec","x":539.1,"y":35.3},{"t":"18 sec","x":539.1,"y":23.7},{"t":"0 sec","x":539.1,"y":8}]},"mark":{"type":"text","align":"right"},"encoding":{"text":{"field":"t"}}}
]}
],"spacing":44,"bounds":"flush"}
]
}
